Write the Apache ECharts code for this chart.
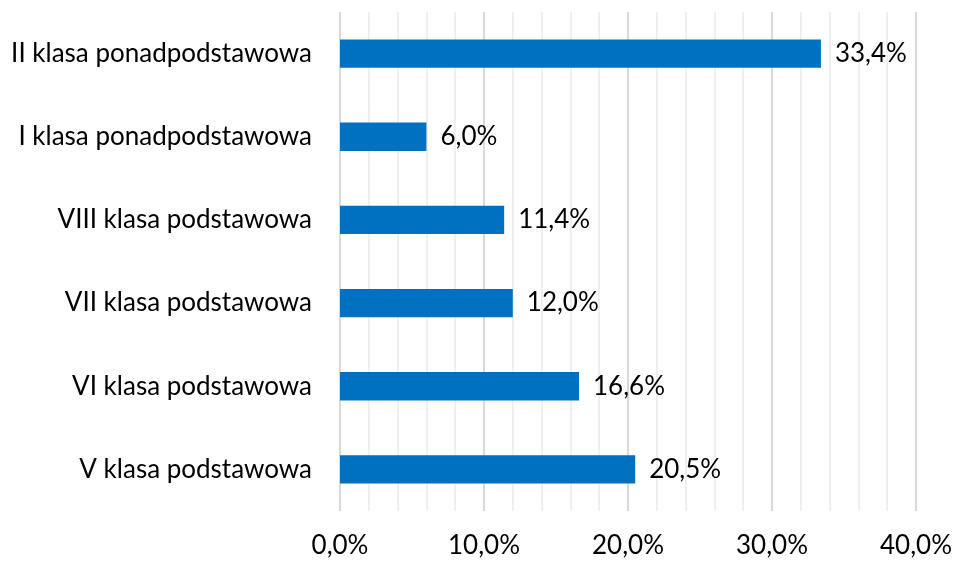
<!DOCTYPE html>
<html><head><meta charset="utf-8">
<script src="https://cdn.jsdelivr.net/npm/echarts@6/dist/echarts.min.js"></script>
<style>html,body{margin:0;padding:0;background:#fff}#c{width:955px;height:562px}</style>
</head><body><div id="c"></div>
<script>
const categories = ["II klasa ponadpodstawowa","I klasa ponadpodstawowa","VIII klasa podstawowa","VII klasa podstawowa","VI klasa podstawowa","V klasa podstawowa"];
const values = [33.4, 6.0, 11.4, 12.0, 16.6, 20.5];
const fmt = v => v.toFixed(1).replace('.', ',') + '%';
const chart = echarts.init(document.getElementById('c'), null, {renderer:'canvas'});
const font = 'Lato';
chart.setOption({
  animation:false,
  grid:{left:340, right:39, top:12, bottom:51, containLabel:false},
  xAxis:{type:'value', min:0, max:40, interval:10,
    axisLine:{show:false}, axisTick:{show:false},
    axisLabel:{formatter:v=>fmt(v), color:'#000', fontFamily:font, fontSize:26, margin:22},
    splitLine:{show:true, lineStyle:{color:'#d9d9d9', width:2}},
    minorTick:{show:false, splitNumber:5},
    minorSplitLine:{show:true, lineStyle:{color:'#efefef', width:2}}
  },
  yAxis:{type:'category', data:categories, inverse:true,
    axisLine:{show:false}, axisTick:{show:false},
    axisLabel:{color:'#000', fontFamily:font, fontSize:26, margin:28}
  },
  series:[{type:'bar', data:values, barWidth:'34%',
    itemStyle:{color:'#0070C0'},
    label:{show:true, position:'right', distance:14, formatter:p=>fmt(p.value), color:'#000', fontFamily:font, fontSize:26}
  }]
});
</script></body></html>
